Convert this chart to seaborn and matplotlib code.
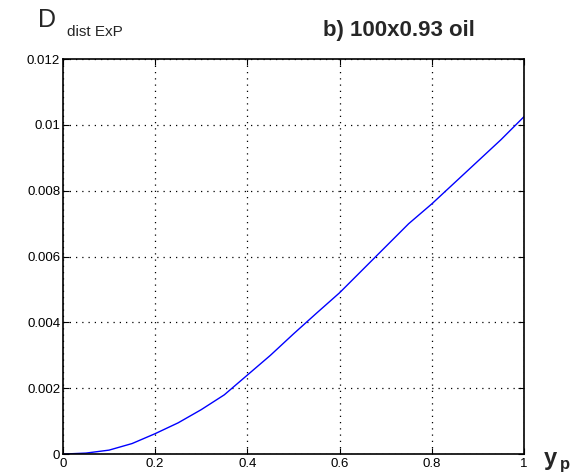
import matplotlib
matplotlib.use("Agg")
import matplotlib.pyplot as plt
import seaborn as sns
import pandas as pd

y_p = [0.0, 0.05, 0.1, 0.15, 0.2, 0.25, 0.3, 0.35, 0.4, 0.45, 0.5,
       0.55, 0.6, 0.65, 0.7, 0.75, 0.8, 0.85, 0.9, 0.95, 1.0]
d_dist = [0.0, 0.00003, 0.00012, 0.00032, 0.00062, 0.00095, 0.00135, 0.00180,
          0.00240, 0.00300, 0.00365, 0.00428, 0.00490, 0.00560, 0.00630,
          0.00700, 0.00760, 0.00825, 0.00890, 0.00955, 0.01025]
x_ticks = [0, 0.2, 0.4, 0.6, 0.8, 1]
x_labels = ["0", "0.2", "0.4", "0.6", "0.8", "1"]
y_ticks = [0, 0.002, 0.004, 0.006, 0.008, 0.01, 0.012]
y_labels = ["0", "0.002", "0.004", "0.006", "0.008", "0.01", "0.012"]

sns.set_style("white")
plt.rcParams['font.family'] = ['Liberation Sans', 'DejaVu Sans']

df = pd.DataFrame({"y_p": y_p, "D": d_dist})
fig = plt.figure(figsize=(5.72, 4.73), dpi=100)
ax = fig.add_axes([0.110, 0.040, 0.806, 0.835])
sns.lineplot(data=df, x="y_p", y="D", ax=ax, color="#0000ff", linewidth=1.0)

ax.set_xlim(0, 1)
ax.set_ylim(0, 0.012)
ax.set_xticks(x_ticks)
ax.set_xticklabels(x_labels)
ax.set_yticks(y_ticks)
ax.set_yticklabels(y_labels)
ax.tick_params(axis="y", pad=2)
ax.tick_params(axis="x", pad=3)
ax.tick_params(direction="in", length=4, labelsize=9.5, colors="black",
               top=True, right=True, bottom=True, left=True)
ax.grid(True, color="black", linestyle=(0, (1, 4)), linewidth=0.9)
for s in ax.spines.values():
    s.set_visible(True)
    s.set_color("black")
    s.set_linewidth(1.2)
ax.set_xlabel("")
ax.set_ylabel("")

fig.text(0.066, 0.958, "D", fontsize=18, ha="left", va="center")
fig.text(0.118, 0.932, "dist ExP", fontsize=11, ha="left", va="center")
fig.text(0.697, 0.935, "b) 100x0.93 oil", fontsize=16, fontweight="bold",
         ha="center", va="center")
fig.text(0.962, 0.030, "y", fontsize=17, fontweight="bold", ha="center", va="center")
fig.text(0.987, 0.018, "p", fontsize=12, fontweight="bold", ha="center", va="center")

fig.savefig("out.png", dpi=100)
